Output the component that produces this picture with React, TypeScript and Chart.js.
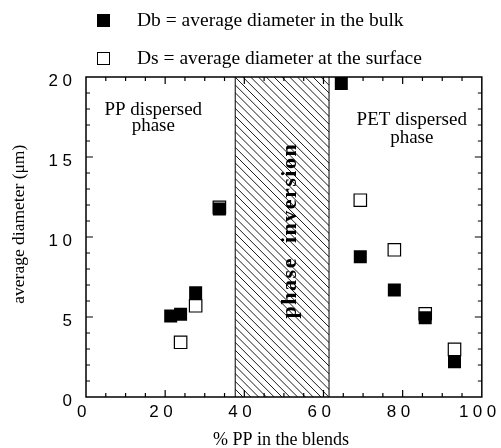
import React, { useEffect, useRef } from "react";
import { Chart, registerables } from "chart.js";
Chart.register(...registerables);

// ---- data ----
const bulkX = [21.4, 23.9, 27.7, 33.7, 64.5, 69.3, 77.9, 85.7, 93.1];
const bulkY = [5.06, 5.17, 6.52, 11.75, 19.6, 8.77, 6.69, 4.96, 2.2];
const surfX = [23.9, 27.7, 33.7, 69.3, 77.9, 85.7, 93.1];
const surfY = [3.42, 5.7, 11.85, 12.3, 9.2, 5.2, 2.98];
const phaseInversion = [37.7, 61.4];
const xTickValues = [0, 20, 40, 60, 80, 100];
const yTickValues = [0, 5, 10, 15, 20];
const legendLabels = ["Db = average diameter in the bulk", "Ds = average diameter at the surface"];
const xTitle = "% PP in the blends";
const yTitle = "average diameter (\u03bcm)";
const ppLabel = ["PP dispersed", "phase"];
const petLabel = ["PET dispersed", "phase"];
const inversionLabel = "phase  inversion";

const SERIF = '"Liberation Serif", "Times New Roman", serif';
const SANS = '"Liberation Sans", Arial, sans-serif';

const decor = {
  id: "decor",
  beforeDraw(chart: any) {
    chart.ctx.letterSpacing = "4.5px";
  },
  beforeDatasetsDraw(chart: any) {
    const ctx = chart.ctx;
    ctx.letterSpacing = "0px";
    const { top, bottom, left, right } = chart.chartArea;
    const xs = chart.scales.x;
    const ys = chart.scales.y;
    const x0 = xs.getPixelForValue(phaseInversion[0]);
    const x1 = xs.getPixelForValue(phaseInversion[1]);
    const h = bottom - top;
    // hatch
    ctx.save();
    ctx.beginPath();
    ctx.rect(x0, top, x1 - x0, h);
    ctx.clip();
    ctx.strokeStyle = "#000";
    ctx.lineWidth = 0.9;
    ctx.beginPath();
    for (let k = -h; k < x1 - x0 + 8; k += 7.8) {
      ctx.moveTo(x0 + k, top);
      ctx.lineTo(x0 + k + h, top + h);
    }
    ctx.stroke();
    ctx.restore();
    ctx.save();
    ctx.strokeStyle = "#000";
    ctx.lineWidth = 1;
    ctx.beginPath();
    ctx.moveTo(x0, top);
    ctx.lineTo(x0, bottom);
    ctx.moveTo(x1, top);
    ctx.lineTo(x1, bottom);
    ctx.stroke();
    // inversion label
    ctx.translate(xs.getPixelForValue(51.5), ys.getPixelForValue(10.4));
    ctx.rotate(-Math.PI / 2);
    ctx.font = "bold 22px " + SERIF;
    ctx.letterSpacing = "1.5px";
    ctx.fillStyle = "#000";
    ctx.textAlign = "center";
    ctx.textBaseline = "middle";
    ctx.fillText(inversionLabel, 0, 0);
    ctx.restore();

    // frame
    ctx.save();
    ctx.strokeStyle = "#000";
    ctx.lineWidth = 1.5;
    ctx.strokeRect(left, top, right - left, bottom - top);
    ctx.lineWidth = 1.2;
    ctx.beginPath();
    for (let v = 5; v < 100; v += 5) {
      const p = xs.getPixelForValue(v);
      const len = v % 20 === 0 ? 7 : 4;
      ctx.moveTo(p, bottom);
      ctx.lineTo(p, bottom - len);
      ctx.moveTo(p, top);
      ctx.lineTo(p, top + len);
    }
    for (let v = 1; v < 20; v += 1) {
      const p = ys.getPixelForValue(v);
      const len = v % 5 === 0 ? 7 : 4;
      ctx.moveTo(left, p);
      ctx.lineTo(left + len, p);
      ctx.moveTo(right, p);
      ctx.lineTo(right - len, p);
    }
    ctx.stroke();
    ctx.restore();
  },
  afterDraw(chart: any) {
    const ctx = chart.ctx;
    const xs = chart.scales.x;
    const ys = chart.scales.y;
    const { left, right } = chart.chartArea;
    ctx.save();
    ctx.letterSpacing = "0px";
    ctx.fillStyle = "#000";
    ctx.strokeStyle = "#000";
    // legend
    ctx.fillRect(97, 14, 13, 13);
    ctx.lineWidth = 1;
    ctx.strokeRect(97.5, 52.5, 12, 12);
    ctx.font = "19.5px " + SERIF;
    ctx.textAlign = "left";
    ctx.textBaseline = "alphabetic";
    ctx.fillText(legendLabels[0], 137, 26);
    ctx.fillText(legendLabels[1], 137, 64);
    // annotations
    ctx.font = "19px " + SERIF;
    ctx.textAlign = "center";
    ctx.fillText(ppLabel[0], xs.getPixelForValue(17), ys.getPixelForValue(17.6));
    ctx.fillText(ppLabel[1], xs.getPixelForValue(17), ys.getPixelForValue(16.65));
    ctx.fillText(petLabel[0], xs.getPixelForValue(82.3), ys.getPixelForValue(17));
    ctx.fillText(petLabel[1], xs.getPixelForValue(82.3), ys.getPixelForValue(15.9));
    // axis titles
    ctx.font = "18px " + SERIF;
    ctx.fillText(xTitle, (left + right) / 2 - 3, 445);
    ctx.save();
    ctx.translate(19, ys.getPixelForValue(10.8));
    ctx.rotate(-Math.PI / 2);
    ctx.font = "17.5px " + SERIF;
    ctx.textBaseline = "middle";
    ctx.fillText(yTitle, 0, 0);
    ctx.restore();
    ctx.restore();
  },
};

export default function App() {
  const ref = useRef<HTMLCanvasElement>(null);
  useEffect(() => {
    const chart = new Chart(ref.current!, {
      type: "scatter",
      data: {
        datasets: [
          {
            label: "Db",
            data: bulkX.map((x, i) => ({ x, y: bulkY[i] })),
            pointStyle: "rect",
            pointRadius: 9.2,
            pointHoverRadius: 9.2,
            backgroundColor: "#000",
            borderColor: "#000",
            borderWidth: 0,
          },
          {
            label: "Ds",
            data: surfX.map((x, i) => ({ x, y: surfY[i] })),
            pointStyle: "rect",
            pointRadius: 8.8,
            pointHoverRadius: 8.8,
            backgroundColor: "#fff",
            borderColor: "#000",
            borderWidth: 1.2,
          },
        ],
      },
      options: {
        animation: false,
        responsive: false,
        devicePixelRatio: 1,
        events: [],
        layout: { padding: { top: 77, right: 15, left: 0, bottom: 0 } },
        plugins: { legend: { display: false }, tooltip: { enabled: false } },
        scales: {
          x: {
            type: "linear",
            min: 0,
            max: 100,
            afterFit: (s: any) => {
              s.height = 51;
            },
            afterBuildTicks: (s: any) => {
              s.ticks = xTickValues.map((v) => ({ value: v }));
            },
            grid: { display: false, drawTicks: false },
            border: { display: false },
            ticks: {
              color: "#000",
              font: { family: SANS, size: 17 },
              padding: 5,
              labelOffset: -2,
              maxRotation: 0,
            },
          },
          y: {
            type: "linear",
            min: 0,
            max: 20,
            afterFit: (s: any) => {
              s.width = 86;
            },
            afterBuildTicks: (s: any) => {
              s.ticks = yTickValues.map((v) => ({ value: v }));
            },
            grid: { display: false, drawTicks: false },
            border: { display: false },
            ticks: {
              color: "#000",
              font: { family: SANS, size: 17 },
              padding: 9.5,
              labelOffset: 4,
            },
          },
        },
      },
      plugins: [decor],
    } as any);
    return () => chart.destroy();
  }, []);
  return (
    <div style={{ position: "absolute", left: 0, top: 0, width: 501, height: 448, background: "#fff" }}>
      <canvas ref={ref} width={501} height={448} style={{ display: "block" }} />
    </div>
  );
}
